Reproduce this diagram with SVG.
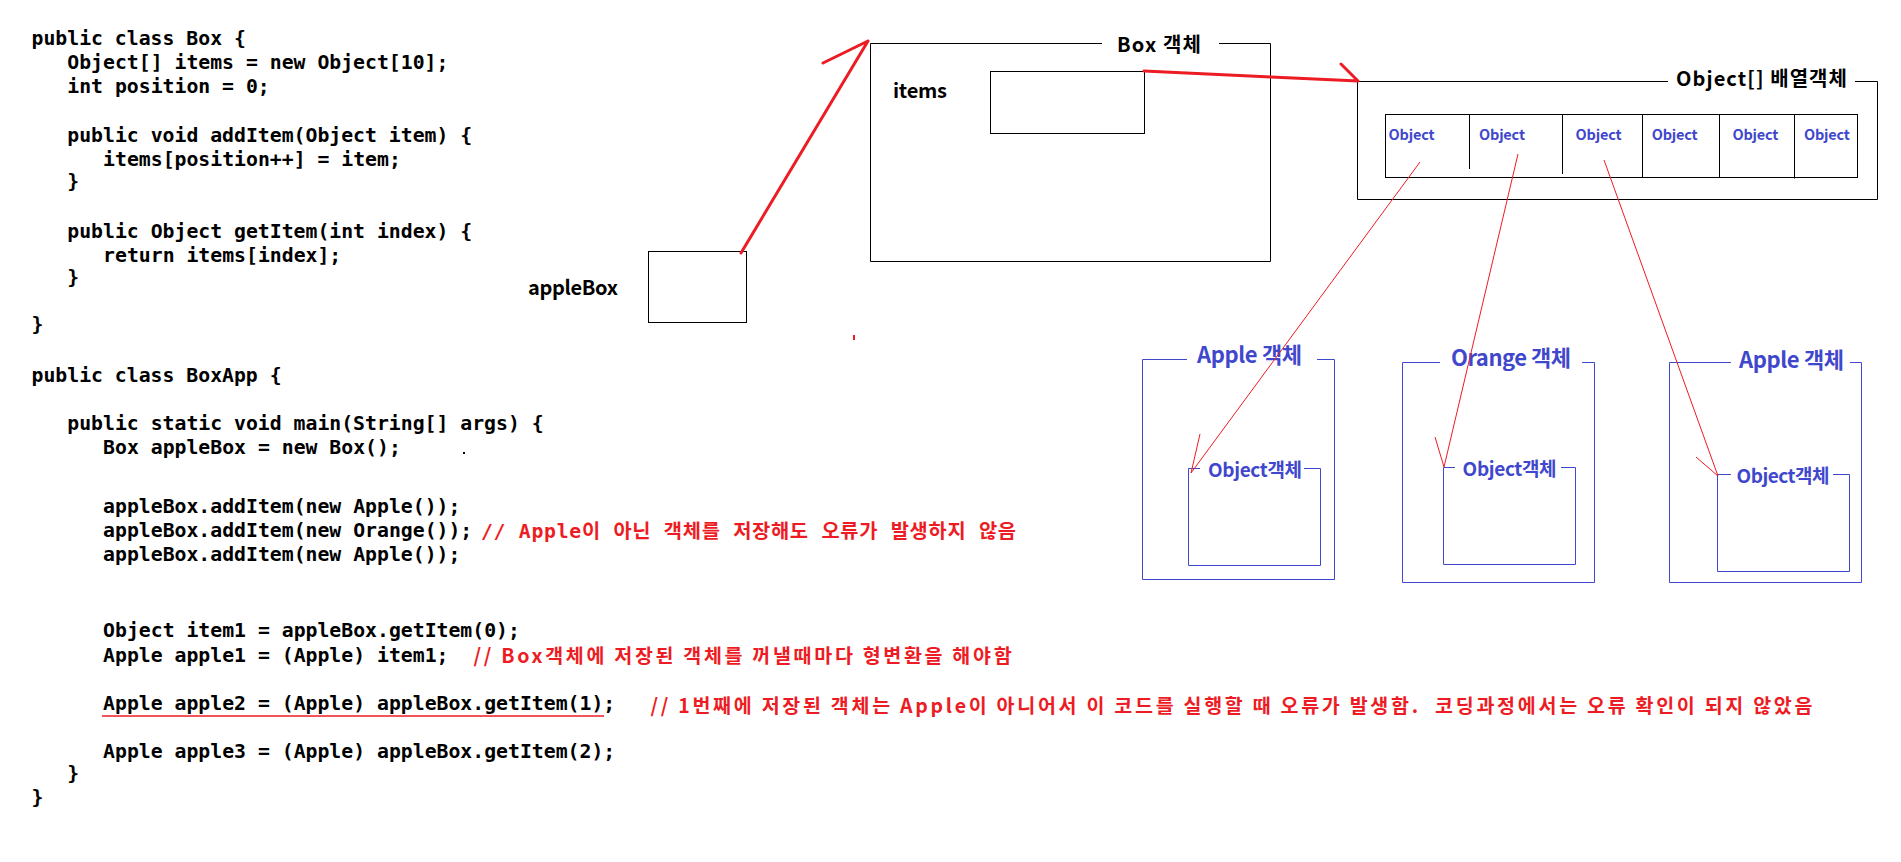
<svg xmlns="http://www.w3.org/2000/svg" width="1901" height="862" viewBox="0 0 1901 862">
<style>
text{white-space:pre}
.code{font-family:'DejaVu Sans Mono','Noto Sans CJK KR',monospace;font-size:19.8px;font-weight:bold;fill:#000}
.cmt{fill:#ED1C24}
.cmtk{font-family:'Noto Sans CJK KR',sans-serif;font-size:19.5px;font-weight:bold;fill:#ED1C24}
.lbl{font-family:'Noto Sans CJK KR',sans-serif;font-weight:bold;font-size:20px;fill:#000}
.blbl{font-family:'Noto Sans CJK KR',sans-serif;font-weight:bold;font-size:22px;fill:#3F48CC}
.ilbl{font-family:'Noto Sans CJK KR',sans-serif;font-weight:bold;font-size:19px;fill:#3F48CC}
.cell{font-family:'Noto Sans CJK KR',sans-serif;font-weight:bold;font-size:14.5px;fill:#3F48CC}
.box{fill:none;stroke:#000;stroke-width:1}
.bbox{fill:none;stroke:#3F48CC;stroke-width:1}
.thick{fill:none;stroke:#ED1C24;stroke-width:3;stroke-linecap:round;stroke-linejoin:round}
.thin{fill:none;stroke:#ED1C24;stroke-width:1}
</style>
<rect x="0" y="0" width="1901" height="862" fill="#fff"/>
<g id="code" xml:space="preserve">
<text class="code" x="31.5" y="45">public class Box {</text>
<text class="code" x="67.3" y="69">Object[] items = new Object[10];</text>
<text class="code" x="67.3" y="93">int position = 0;</text>
<text class="code" x="67.3" y="141.5">public void addItem(Object item) {</text>
<text class="code" x="103.1" y="165.5">items[position++] = item;</text>
<text class="code" x="67.3" y="188">}</text>
<text class="code" x="67.3" y="237.7">public Object getItem(int index) {</text>
<text class="code" x="103.1" y="261.8">return items[index];</text>
<text class="code" x="67.3" y="284">}</text>
<text class="code" x="31.5" y="331">}</text>
<text class="code" x="31.5" y="382">public class BoxApp {</text>
<text class="code" x="67.3" y="430">public static void main(String[] args) {</text>
<text class="code" x="103.1" y="454">Box appleBox = new Box();</text>
<text class="code" x="103.1" y="512.5">appleBox.addItem(new Apple());</text>
<text class="code" x="103.1" y="536.7">appleBox.addItem(new Orange());</text>
<text class="code" x="103.1" y="560.7">appleBox.addItem(new Apple());</text>
<text class="code" x="103.1" y="637.3">Object item1 = appleBox.getItem(0);</text>
<text class="code" x="103.1" y="661.7">Apple apple1 = (Apple) item1;</text>
<text class="code" x="103.1" y="710">Apple apple2 = (Apple) appleBox.getItem(1);</text>
<text class="code" x="103.1" y="757.7">Apple apple3 = (Apple) appleBox.getItem(2);</text>
<text class="code" x="67.3" y="780">}</text>
<text class="code" x="31.5" y="804">}</text>
<text class="code cmt" x="481" y="538" textLength="535" lengthAdjust="spacing">// Apple이 아닌 객체를 저장해도 오류가 발생하지 않음</text>
<text class="cmtk" x="473.6" y="663" textLength="538" lengthAdjust="spacing">// Box객체에 저장된 객체를 꺼낼때마다 형변환을 해야함</text>
<text class="cmtk" x="650.5" y="713" textLength="1162" lengthAdjust="spacing">// 1번째에 저장된 객체는 Apple이 아니어서 이 코드를 실행할 때 오류가 발생함.  코딩과정에서는 오류 확인이 되지 않았음</text>
<line x1="102" y1="716" x2="604" y2="716" stroke="#ED1C24" stroke-width="1.5"/>
<rect x="463" y="452" width="2" height="2" fill="#000"/>
<rect x="853" y="335" width="2" height="5" fill="#ED1C24"/>
</g>
<g id="appleBox">
<rect class="box" x="648.5" y="251.5" width="98" height="71"/>
<text class="lbl" x="528" y="295" textLength="90" lengthAdjust="spacing">appleBox</text>
</g>
<g id="boxObject">
<path class="box" d="M1102,43.5 H870.5 V261.5 H1270.5 V43.5 H1219"/>
<text class="lbl" x="1117" y="52" font-size="21" textLength="84" lengthAdjust="spacing">Box 객체</text>
<text class="lbl" x="893" y="98" textLength="54" lengthAdjust="spacing">items</text>
<rect class="box" x="990.5" y="71.5" width="154" height="62"/>
</g>
<g id="arrayObject">
<path class="box" d="M1668,81.5 H1357.5 V199.5 H1877.5 V81.5 H1855"/>
<text class="lbl" x="1676" y="86" font-size="21" textLength="171" lengthAdjust="spacing">Object[] 배열객체</text>
<rect class="box" x="1385.5" y="114.5" width="472" height="63"/>
<path class="box" d="M1469.5,114.5 V169 M1562.5,114.5 V174 M1642.5,114.5 V177.5 M1719.5,114.5 V177.5 M1794.5,114.5 V178.5"/>
<text class="cell" x="1388.6" y="140" textLength="46">Object</text>
<text class="cell" x="1479" y="140" textLength="46">Object</text>
<text class="cell" x="1575.6" y="140" textLength="46">Object</text>
<text class="cell" x="1651.7" y="140" textLength="46">Object</text>
<text class="cell" x="1732.4" y="140" textLength="46">Object</text>
<text class="cell" x="1803.9" y="140" textLength="46">Object</text>
</g>
<g id="apple1">
<path class="bbox" d="M1187,359.5 H1142.5 V579.5 H1334.5 V359.5 H1317"/>
<text class="blbl" x="1197" y="363" textLength="105" lengthAdjust="spacing">Apple 객체</text>
<path class="bbox" d="M1200,468.5 H1188.5 V565.5 H1320.5 V468.5 H1304"/>
<text class="ilbl" x="1208" y="476.7" textLength="94" lengthAdjust="spacing">Object객체</text>
</g>
<g id="orange">
<path class="bbox" d="M1440,362.5 H1402.5 V582.5 H1594.5 V362.5 H1582"/>
<text class="blbl" x="1451" y="366" textLength="120" lengthAdjust="spacing">Orange 객체</text>
<path class="bbox" d="M1455,467.5 H1443.5 V564.5 H1575.5 V467.5 H1561"/>
<text class="ilbl" x="1462.6" y="475.7" textLength="94" lengthAdjust="spacing">Object객체</text>
</g>
<g id="apple2">
<path class="bbox" d="M1731,362.5 H1669.5 V582.5 H1861.5 V362.5 H1850"/>
<text class="blbl" x="1739" y="368.3" textLength="105" lengthAdjust="spacing">Apple 객체</text>
<path class="bbox" d="M1731,474.5 H1717.5 V571.5 H1849.5 V474.5 H1833"/>
<text class="ilbl" x="1736.5" y="483.3" textLength="93" lengthAdjust="spacing">Object객체</text>
</g>
<g id="connectors">
<path class="thick" d="M741,253 L868,41 M823,63 L868,41"/>
<path class="thick" d="M1144,71 L1271,77 L1358,81 M1341,64 L1358,81"/>
<path class="thin" d="M1420,162 L1191,473 M1200,434 L1191,473"/>
<path class="thin" d="M1518,154 L1444,467 M1435,437 L1444,467"/>
<path class="thin" d="M1604,160 L1718,476 M1696,457 L1718,476"/>
</g>
</svg>
